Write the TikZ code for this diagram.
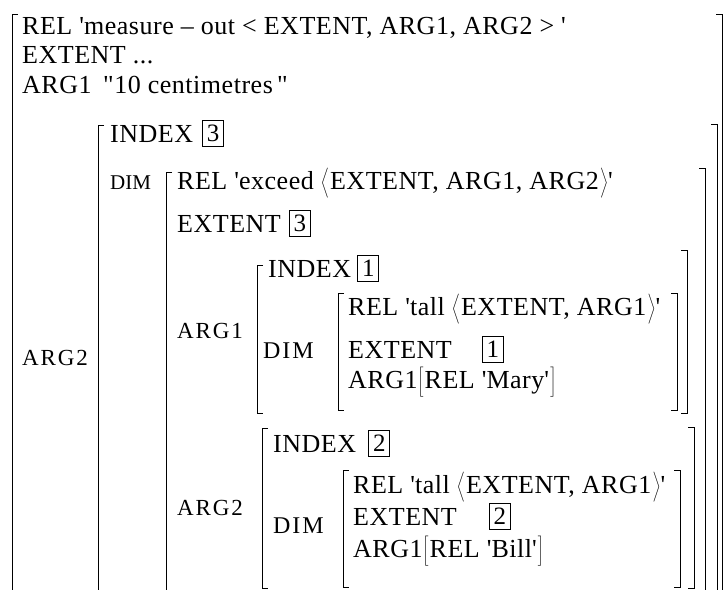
\documentclass[tikz,border=0pt]{standalone}
\usepackage{fontspec}
\setmainfont{Liberation Serif}
\newfontfamily\rowfont[LetterSpace=2]{Liberation Serif}
\newfontfamily\spaced[LetterSpace=8]{Liberation Serif}
\usetikzlibrary{positioning}
\newcommand{\sq}{\textquotesingle}
\newcommand{\lang}{\left\langle\vcenter to32pt{}\right.}
\newcommand{\rang}{\left.\vcenter to32pt{}\right\rangle}
\newcommand{\lbrak}{\left[\vcenter to32pt{}\right.}
\newcommand{\rbrak}{\left.\vcenter to32pt{}\right]}

\begin{document}
\begin{tikzpicture}[x=1pt,y=-1pt,
    txt/.style={anchor=base west,inner sep=0pt,font=\rowfont\fontsize{26}{30}\selectfont},
    lbl/.style={anchor=base west,inner sep=0pt,font=\spaced\fontsize{23}{27}\selectfont},
    dimlbl/.style={lbl,font=\spaced\fontsize{24}{28}\selectfont},
    tag/.style={draw,line width=0.8pt,inner sep=0pt,minimum width=21pt,minimum height=26pt,font=\fontsize{25}{30}\selectfont},
    brk/.style={line width=0.9pt}]
  \useasboundingbox (0,0) rectangle (724,590);

  % outer AVM
  \node[txt] (rel) at (22,34) {REL \sq measure – out < EXTENT, ARG1, ARG2 > \sq};
  \node[txt] (ext) at (22,63) {EXTENT ...};
  \node[txt] (arga) at (22,93) {ARG1};
  \node[txt] (argaval) at (103,93) {"10 centimetres\,"};
  \node[lbl] (argb) at (22,365) {ARG2};

  % value of ARG2
  \node[txt] (idxc) at (110,142) {INDEX};
  \node[tag,right=9pt of idxc] (tagc) {3};
  \node[txt,font=\fontsize{21}{25}\selectfont] (dimc) at (110,189) {DIM};
  \node[txt] (relc) at (177,189) {REL \sq exceed $\lang$EXTENT, ARG1, ARG2$\rang$\sq};
  \node[txt] (extc) at (177,232) {EXTENT};
  \node[tag,right=8pt of extc] (tagcc) {3};

  % ARG1 of exceed
  \node[lbl] (argai) at (177,338) {ARG1};
  \node[txt] (idxa) at (268,277) {INDEX};
  \node[tag,right=6pt of idxa] (taga) {1};
  \node[dimlbl] (dima) at (263,358) {DIM};
  \node[txt] (rela) at (348,315) {REL \sq tall $\lang$EXTENT, ARG1$\rang$\sq};
  \node[txt] (exta) at (348,358) {EXTENT};
  \node[tag,right=30pt of exta] (tagaa) {1};
  \node[txt] (mary) at (348,388) {ARG1$\lbrak$REL \sq Mary\sq$\rbrak$};

  % ARG2 of exceed
  \node[lbl] (argbi) at (177,515) {ARG2};
  \node[txt] (idxb) at (273,452) {INDEX};
  \node[tag,right=12pt of idxb] (tagb) {2};
  \node[dimlbl] (dimb) at (273,533) {DIM};
  \node[txt] (relb) at (353,493) {REL \sq tall $\lang$EXTENT, ARG1$\rang$\sq};
  \node[txt] (extb) at (353,525) {EXTENT};
  \node[tag,right=32pt of extb] (tagbb) {2};
  \node[txt] (bill) at (353,557) {ARG1$\lbrak$REL \sq Bill\sq$\rbrak$};

  % brackets, x/top/bottom
  \foreach \x/\ya/\yb in {257/265/413, 338/293/410, 262/428/588, 343/470/587}
    \draw[brk] (\x+6,\ya) -- (\x,\ya) -- (\x,\yb) -- (\x+6,\yb);
  \foreach \x/\ya/\yb in {687/250/413, 677/293/410, 694/427/588, 680/470/587}
    \draw[brk] (\x-6,\ya) -- (\x,\ya) -- (\x,\yb) -- (\x-6,\yb);
  % open at the bottom
  \foreach \x/\ya in {12/14, 98/125, 166/172}
    \draw[brk] (\x+6,\ya) -- (\x,\ya) -- (\x,590);
  \foreach \x/\ya in {722/14, 717/124, 705/168}
    \draw[brk] (\x-6,\ya) -- (\x,\ya) -- (\x,590);
\end{tikzpicture}
\end{document}
